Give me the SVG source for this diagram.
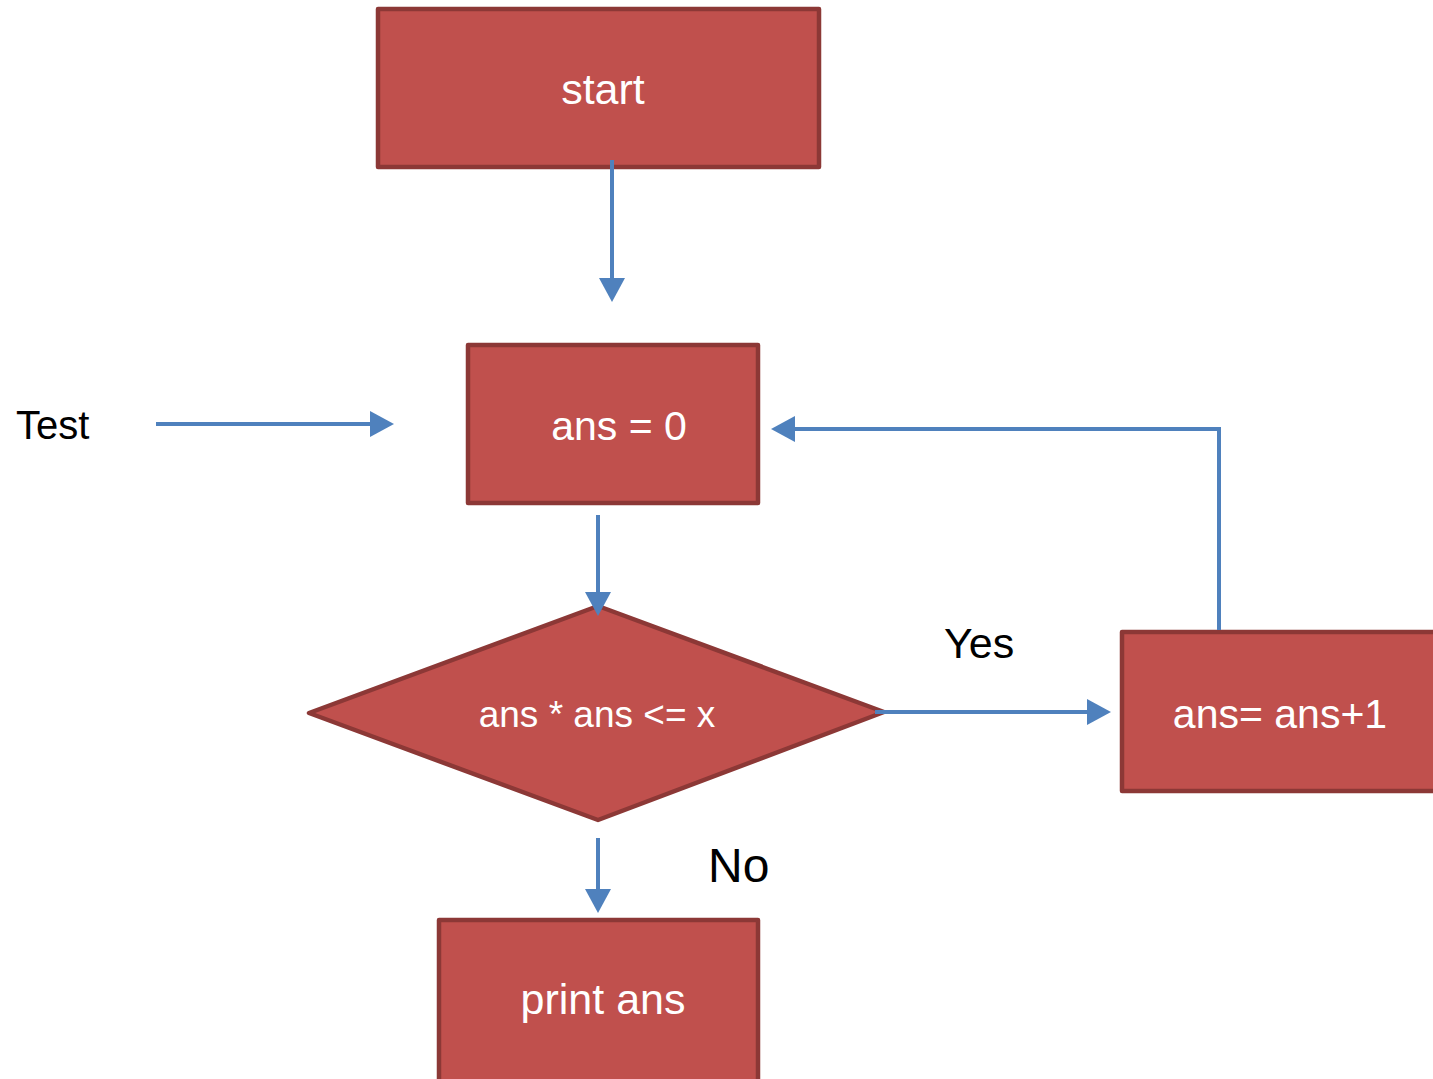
<svg xmlns="http://www.w3.org/2000/svg" width="1433" height="1079" viewBox="0 0 1433 1079">
<style>
.node{fill:#C0504D;stroke:#8C3836;stroke-width:4.5;stroke-linejoin:round}
.lbl{fill:#FFFFFF;font-family:"Liberation Sans",Arial,sans-serif;text-anchor:middle}
.txt{fill:#000000;font-family:"Liberation Sans",Arial,sans-serif}
.conn{fill:none;stroke:#4F81BD;stroke-width:4;marker-end:url(#ah)}
</style>
<defs>
<marker id="ah" markerUnits="userSpaceOnUse" markerWidth="24" markerHeight="26" refX="14" refY="13" orient="auto">
<path d="M0,0 L24,13 L0,26 z" fill="#4F81BD"/>
</marker>
</defs>
<rect width="1433" height="1079" fill="#FFFFFF"/>
<g id="start">
<rect class="node" x="378" y="9" width="441" height="158"/>
<text class="lbl" x="603" y="104" font-size="43">start</text>
</g>
<g id="init">
<rect class="node" x="468" y="345" width="290" height="158"/>
<text class="lbl" x="619" y="440" font-size="41">ans = 0</text>
</g>
<g id="cond">
<polygon class="node" points="309,713 598,606 884,712 598,820"/>
<text class="lbl" x="597" y="727" font-size="37">ans * ans &lt;= x</text>
</g>
<g id="incr">
<rect class="node" x="1122" y="632" width="330" height="159"/>
<text class="lbl" x="1280" y="728" font-size="41">ans= ans+1</text>
</g>
<g id="print">
<rect class="node" x="439" y="920" width="319" height="180"/>
<text class="lbl" x="603" y="1014" font-size="43">print ans</text>
</g>
<g id="labels">
<text class="txt" x="16" y="439" font-size="40">Test</text>
<text class="txt" x="944" y="658" font-size="43">Yes</text>
<text class="txt" x="708" y="882" font-size="48">No</text>
</g>
<g id="connectors">
<line class="conn" x1="612" y1="160" x2="612" y2="292"/>
<line class="conn" x1="156" y1="424" x2="384" y2="424"/>
<line class="conn" x1="598" y1="515" x2="598" y2="606"/>
<line class="conn" x1="875" y1="712" x2="1101" y2="712"/>
<polyline class="conn" points="1219,630 1219,429 781,429"/>
<line class="conn" x1="598" y1="838" x2="598" y2="903"/>
</g>
</svg>
